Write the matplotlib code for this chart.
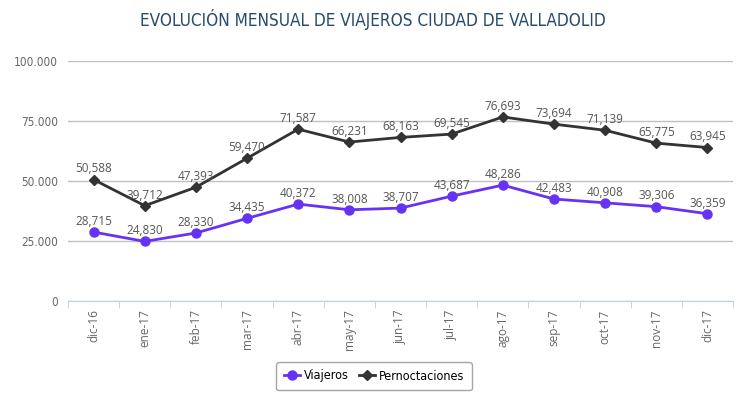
import matplotlib.pyplot as plt
from matplotlib.ticker import FuncFormatter

meses = ["dic-16", "ene-17", "feb-17", "mar-17", "abr-17", "may-17", "jun-17",
         "jul-17", "ago-17", "sep-17", "oct-17", "nov-17", "dic-17"]
viajeros = [28715, 24830, 28330, 34435, 40372, 38008, 38707,
            43687, 48286, 42483, 40908, 39306, 36359]
pernoctaciones = [50588, 39712, 47393, 59470, 71587, 66231, 68163,
                  69545, 76693, 73694, 71139, 65775, 63945]

plt.rcParams['font.family'] = ['DejaVu Sans']
plt.rcParams['font.stretch'] = 'condensed'

fig = plt.figure(figsize=(7.45, 3.98), dpi=100, facecolor='w')
ax = fig.add_axes([68 / 745, 97 / 398, 665 / 745, 240 / 398])

x = list(range(len(meses)))
ax.plot(x, viajeros, color='#6633f5', marker='o', ms=6.5, lw=2, label="Viajeros", zorder=3)
ax.plot(x, pernoctaciones, color='#333333', marker='D', ms=5, lw=2, label="Pernoctaciones", zorder=3)

for xi, v in zip(x, viajeros):
    ax.annotate(f"{v:,}", (xi, v), xytext=(0, 3), textcoords='offset points',
                ha='center', va='bottom', fontsize=8.5, color='#555555',
                family='Open Sans', fontstretch='normal')
for xi, v in zip(x, pernoctaciones):
    ax.annotate(f"{v:,}", (xi, v), xytext=(0, 3), textcoords='offset points',
                ha='center', va='bottom', fontsize=8.5, color='#555555',
                family='Open Sans', fontstretch='normal')

ax.set_xlim(-0.5, len(meses) - 0.5)
ax.set_ylim(0, 100000)
ax.set_yticks([0, 25000, 50000, 75000, 100000])
ax.yaxis.set_major_formatter(FuncFormatter(lambda v, p: "0" if v == 0 else f"{int(v):,}".replace(",", ".")))
ax.grid(axis='y', color='#c0c0c0', lw=1)
ax.set_axisbelow(True)

ax.set_xticks(x)
ax.set_xticklabels(meses, rotation=90, fontsize=8.5, color='#666666',
                   family='Open Sans', fontstretch='normal')
ax.set_xticks([i - 0.5 for i in range(len(meses) + 1)], minor=True)
ax.tick_params(axis='x', which='major', length=0, pad=6)
ax.tick_params(axis='x', which='minor', length=5, color='#c0d0e0')
ax.tick_params(axis='y', length=0, labelsize=8.5, labelcolor='#666666', pad=7)

for s in ['top', 'right', 'left']:
    ax.spines[s].set_visible(False)
ax.spines['bottom'].set_color('#c0d0e0')

fig.text(0.5, 1 - 20 / 398, "EVOLUCIÓN MENSUAL DE VIAJEROS CIUDAD DE VALLADOLID",
         ha='center', va='center', fontsize=12.3, color='#274b6d')

leg = fig.legend(loc='center', bbox_to_anchor=(374 / 745, 1 - 376 / 398), ncol=2,
                 frameon=True, fontsize=9, handlelength=1.3, columnspacing=0.8,
                 handletextpad=0.3, borderpad=0.4)
leg.get_frame().set_edgecolor('#909090')
leg.get_frame().set_linewidth(1)
leg.get_frame().set_boxstyle('round,pad=0.2')

fig.savefig("out.png", dpi=100)
